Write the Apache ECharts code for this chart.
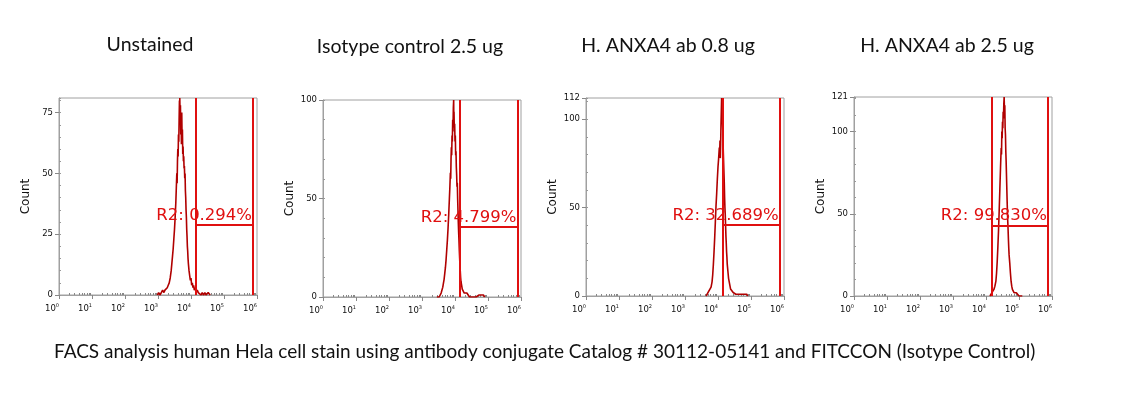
<!DOCTYPE html>
<html>
<head>
<meta charset="utf-8">
<script src="https://cdn.jsdelivr.net/npm/echarts@6/dist/echarts.min.js"></script>
<style>
html,body{margin:0;padding:0;background:#fff;}
#chart{width:1139px;height:393px;}
</style>
</head>
<body>
<div id="chart"></div>
<script>
// ---------- data ----------
const panelTitles = ["Unstained", "Isotype control 2.5 ug", "H. ANXA4 ab 0.8 ug", "H. ANXA4 ab 2.5 ug"];
const caption = "FACS analysis human Hela cell stain using antibody conjugate Catalog # 30112-05141 and FITCCON (Isotype Control)";
const yMax = [81, 100, 112, 121];
const yTickLabels = [[0, 25, 50, 75], [0, 50, 100], [0, 50, 100, 112], [0, 50, 100, 121]];
const yMinorStep = [5, 10, 10, 10];
const xTickExponents = [0, 1, 2, 3, 4, 5, 6];
const yAxisName = "Count";
const gateLow = [4.15, 4.15, 4.14, 4.16];
const gateHigh = [5.88, 5.89, 5.87, 5.88];
const gateLevel = [28.8, 35.5, 40.3, 42.9];
const gateLabels = ["R2: 0.294%", "R2: 4.799%", "R2: 32.689%", "R2: 99.830%"];

// histograms: [log10(intensity), count]
const histUnstained = [[2.98,0],[3.02,1],[3.06,0],[3.10,1],[3.14,2],[3.18,1],[3.21,2],[3.25,2],[3.28,3],[3.31,4],[3.34,5],[3.37,7],[3.40,10],[3.42,13],[3.44,16],[3.46,19],[3.48,23],[3.50,27],[3.52,32],[3.54,38],[3.555,44],[3.57,50],[3.58,46],[3.59,55],[3.60,60],[3.61,57],[3.62,66],[3.63,63],[3.64,72],[3.65,80],[3.655,70],[3.66,81],[3.67,74],[3.68,78],[3.69,66],[3.70,73],[3.71,62],[3.72,75],[3.73,64],[3.74,68],[3.75,58],[3.76,61],[3.77,55],[3.78,57],[3.79,52],[3.80,53],[3.81,48],[3.82,50],[3.83,43],[3.84,40],[3.85,35],[3.86,32],[3.87,27],[3.88,24],[3.89,20],[3.90,18],[3.91,15],[3.92,13],[3.94,10],[3.96,8],[3.98,6],[4.00,7],[4.02,4],[4.04,5],[4.06,3],[4.08,4],[4.10,2],[4.13,3],[4.16,1],[4.19,2],[4.22,1],[4.26,1],[4.30,0],[4.34,1],[4.38,0],[4.42,1],[4.46,0],[4.52,1],[4.58,0]];
const histIsotype = [[3.45,0],[3.49,1],[3.52,0],[3.55,1],[3.58,2],[3.61,3],[3.63,5],[3.65,7],[3.67,9],[3.69,12],[3.71,15],[3.73,19],[3.75,24],[3.77,29],[3.79,35],[3.81,42],[3.83,50],[3.845,56],[3.86,63],[3.87,60],[3.88,70],[3.89,76],[3.90,72],[3.91,82],[3.92,79],[3.93,90],[3.94,86],[3.95,96],[3.96,100],[3.965,88],[3.97,94],[3.98,84],[3.99,88],[4.00,79],[4.01,82],[4.02,72],[4.03,74],[4.04,66],[4.05,62],[4.06,56],[4.07,58],[4.08,50],[4.09,44],[4.10,38],[4.11,33],[4.12,29],[4.13,24],[4.14,20],[4.15,16],[4.16,13],[4.17,10],[4.18,8],[4.20,6],[4.22,4],[4.24,5],[4.26,3],[4.28,2],[4.30,3],[4.33,1],[4.36,2],[4.40,1],[4.44,0],[4.48,1],[4.52,0],[4.58,1],[4.64,0],[4.72,1],[4.78,0],[4.86,1],[4.90,0]];
const histAb08 = [[3.64,0],[3.67,1],[3.70,2],[3.73,1],[3.76,3],[3.79,5],[3.82,8],[3.84,12],[3.86,18],[3.88,25],[3.90,33],[3.92,42],[3.94,51],[3.96,58],[3.98,66],[4.00,73],[4.02,78],[4.04,84],[4.05,80],[4.06,88],[4.07,78],[4.08,86],[4.09,96],[4.10,104],[4.11,112],[4.12,108],[4.13,112],[4.14,98],[4.15,90],[4.16,82],[4.17,76],[4.18,70],[4.19,64],[4.20,56],[4.21,50],[4.22,46],[4.23,40],[4.24,34],[4.25,30],[4.26,25],[4.27,22],[4.28,18],[4.30,14],[4.32,10],[4.34,8],[4.36,6],[4.38,4],[4.40,5],[4.43,3],[4.46,2],[4.50,3],[4.54,1],[4.58,2],[4.62,1],[4.66,2],[4.70,1],[4.74,0],[4.78,1],[4.82,0],[4.87,1],[4.90,0]];
const histAb25 = [[4.12,0],[4.15,1],[4.18,2],[4.21,2],[4.24,4],[4.27,6],[4.30,9],[4.32,14],[4.34,21],[4.36,30],[4.38,40],[4.40,52],[4.42,65],[4.44,78],[4.46,90],[4.47,86],[4.48,100],[4.49,96],[4.50,106],[4.51,102],[4.52,112],[4.53,108],[4.54,117],[4.55,121],[4.56,112],[4.57,116],[4.58,102],[4.59,98],[4.60,88],[4.61,82],[4.62,74],[4.63,66],[4.64,58],[4.65,51],[4.66,45],[4.67,40],[4.68,34],[4.69,29],[4.70,25],[4.72,20],[4.74,14],[4.76,9],[4.78,6],[4.80,4],[4.82,3],[4.85,2],[4.88,1],[4.92,2],[4.96,1],[5.00,0],[5.05,1],[5.10,0]];
const histograms = [histUnstained, histIsotype, histAb08, histAb25];

// ---------- layout ----------
const grids = [
  {left: 59, top: 98, width: 198, height: 197},
  {left: 323, top: 100, width: 198, height: 197},
  {left: 586, top: 98, width: 198, height: 198},
  {left: 854, top: 97, width: 198, height: 199}
];
const titleCenters = [150, 410, 668, 947];
const titleTops = [35, 37, 36, 36];

const minorX = [];
for (let d = 0; d < 6; d++) for (let k = 2; k <= 9; k++) minorX.push(d + Math.log10(k));

const axisGray = '#a0a0a0';
const option = {
  animation: false,
  backgroundColor: '#fff',
  title: [],
  grid: [],
  xAxis: [],
  yAxis: [],
  series: []
};

panelTitles.forEach((t, i) => {
  option.title.push({
    text: t, left: titleCenters[i], top: titleTops[i], textAlign: 'center', padding: 0,
    textStyle: {fontFamily: 'Lato', fontSize: 19.5, fontWeight: 'normal', color: '#111'}
  });
  const g = grids[i];
  option.grid.push({left: g.left, top: g.top, width: g.width, height: g.height, show: true, borderColor: axisGray, borderWidth: 1, backgroundColor: 'transparent'});
  option.xAxis.push({
    type: 'value', gridIndex: i, min: 0, max: 6, interval: 1,
    axisLine: {lineStyle: {color: axisGray}},
    axisTick: {length: 4, lineStyle: {color: '#888'}},
    splitLine: {show: false},
    axisLabel: {
      margin: 8, align: 'right',
      formatter: v => '{b|10}{s|' + xTickExponents[Math.round(v)] + '}',
      rich: {
        b: {fontFamily: 'DejaVu Sans', fontSize: 8.5, color: '#111', lineHeight: 11},
        s: {fontFamily: 'DejaVu Sans', fontSize: 5, color: '#111', verticalAlign: 'top', lineHeight: 6}
      }
    }
  });
  option.xAxis.push({
    type: 'value', gridIndex: i, min: 0, max: 6,
    axisLine: {show: false},
    axisTick: {show: true, length: 2, customValues: minorX, lineStyle: {color: '#888'}},
    axisLabel: {show: false}, splitLine: {show: false}
  });
  option.yAxis.push({
    type: 'value', gridIndex: i, min: 0, max: yMax[i],
    name: yAxisName, nameLocation: 'middle', nameGap: 27,
    nameTextStyle: {fontFamily: 'DejaVu Sans', fontSize: 12, color: '#111'},
    axisLine: {show: true, lineStyle: {color: axisGray}},
    axisTick: {show: true, length: 4, customValues: yTickLabels[i], lineStyle: {color: '#888'}},
    axisLabel: {customValues: yTickLabels[i], margin: 6, fontFamily: 'DejaVu Sans', fontSize: 8.5, color: '#111'},
    splitLine: {show: false}
  });
  option.yAxis.push({
    type: 'value', gridIndex: i, min: 0, max: yMax[i], interval: yMinorStep[i],
    axisLine: {show: false},
    axisTick: {show: true, length: 2, lineStyle: {color: '#999'}},
    axisLabel: {show: false}, splitLine: {show: false}
  });
  option.series.push({
    type: 'line', xAxisIndex: 2 * i, yAxisIndex: 2 * i, data: histograms[i],
    symbol: 'none', silent: true,
    lineStyle: {color: '#b00000', width: 1.6}
  });
  const gateStyle = {color: '#e01010', width: 2, type: 'solid'};
  option.series.push({
    type: 'line', xAxisIndex: 2 * i, yAxisIndex: 2 * i, data: [], silent: true,
    markLine: {
      silent: true, symbol: 'none', animation: false,
      lineStyle: gateStyle,
      label: {show: false},
      data: [
        {xAxis: gateLow[i]},
        {xAxis: gateHigh[i]},
        [
          {coord: [gateLow[i], gateLevel[i]]},
          {coord: [gateHigh[i], gateLevel[i]],
           label: {show: true, position: 'insideEndTop', distance: 1, formatter: gateLabels[i],
                   fontFamily: 'DejaVu Sans', fontSize: 16.5, color: '#e01010'}}
        ]
      ]
    }
  });
});

option.graphic = [{
  type: 'text', left: 54, top: 342,
  style: {text: caption, font: '19px Lato', fill: '#111'}
}];

const chart = echarts.init(document.getElementById('chart'), null, {renderer: 'canvas'});
chart.setOption(option);
</script>
</body>
</html>
